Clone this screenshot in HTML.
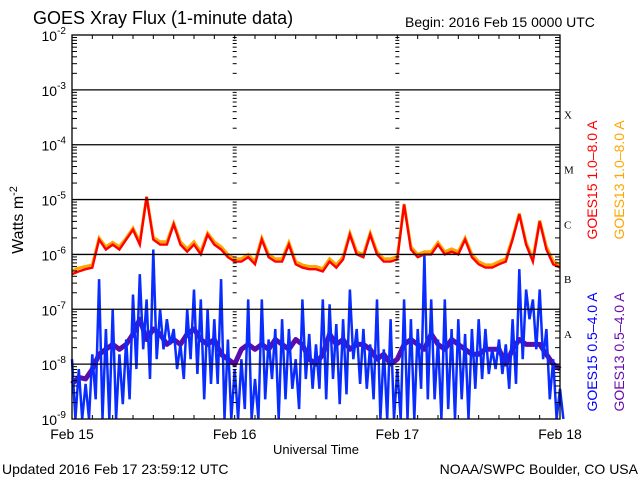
<!DOCTYPE html>
<html><head><meta charset="utf-8"><style>
body{margin:0;background:#fff;}
svg{display:block;font-family:"Liberation Sans",sans-serif;}
</style></head><body>
<svg id="c" width="640" height="480" viewBox="0 0 640 480">
<text x="33" y="24" font-size="18">GOES Xray Flux (1-minute data)</text>
<text x="405" y="27" font-size="14">Begin:  2016 Feb 15 0000 UTC</text>
<text transform="translate(23,220) rotate(-90)" text-anchor="middle" font-size="16">Watts m<tspan dy="-6" font-size="11">-2</tspan></text>
<text x="316" y="454" text-anchor="middle" font-size="13">Universal Time</text>
<text x="2" y="474" font-size="14">Updated 2016 Feb 17 23:59:12 UTC</text>
<text x="638" y="474" text-anchor="end" font-size="14">NOAA/SWPC Boulder, CO USA</text>
<text transform="translate(597,180) rotate(-90)" text-anchor="middle" font-size="14" fill="#ff0000">GOES15 1.0–8.0 A</text>
<text transform="translate(624,180) rotate(-90)" text-anchor="middle" font-size="14" fill="#ffa500">GOES13 1.0–8.0 A</text>
<text transform="translate(597,352) rotate(-90)" text-anchor="middle" font-size="14" fill="#0000ff">GOES15 0.5–4.0 A</text>
<text transform="translate(624,352) rotate(-90)" text-anchor="middle" font-size="14" fill="#6a0dad">GOES13 0.5–4.0 A</text>
<g id="plot"></g>
</svg>
<script>
const dayLabels=["Feb 15","Feb 16","Feb 17","Feb 18"];
const decades=[-2,-3,-4,-5,-6,-7,-8,-9];
const classes=["X","M","C","B","A"];
const red=[-6.36,-6.31,-6.27,-6.24,-5.73,-5.91,-5.82,-5.91,-5.73,-5.55,-5.82,-4.95,-5.73,-5.82,-5.82,-5.45,-5.82,-5.95,-5.82,-6.00,-5.64,-5.82,-5.91,-6.05,
-6.13,-6.13,-6.05,-6.18,-5.73,-6.05,-6.13,-6.13,-5.82,-6.18,-6.24,-6.27,-6.27,-6.31,-6.13,-6.24,-6.09,-5.64,-6.00,-6.05,-5.64,-6.00,-6.13,-6.13,
-6.09,-5.09,-5.91,-6.05,-6.00,-6.00,-5.82,-6.00,-5.95,-6.00,-5.73,-6.05,-6.18,-6.24,-6.24,-6.18,-6.13,-5.73,-5.27,-5.82,-6.13,-5.40,-5.91,-6.18,-6.24];
const orange=[-6.30,-6.25,-6.22,-6.19,-5.70,-5.86,-5.78,-5.86,-5.70,-5.52,-5.77,-4.95,-5.69,-5.77,-5.77,-5.43,-5.77,-5.90,-5.77,-5.95,-5.61,-5.77,-5.86,-6.00,
-6.08,-6.08,-6.00,-6.13,-5.70,-6.00,-6.08,-6.08,-5.78,-6.13,-6.19,-6.22,-6.22,-6.26,-6.08,-6.19,-6.04,-5.61,-5.95,-6.00,-5.61,-5.95,-6.08,-6.08,
-6.04,-5.08,-5.86,-6.00,-5.95,-5.95,-5.78,-5.95,-5.90,-5.95,-5.70,-6.00,-6.13,-6.19,-6.19,-6.13,-6.08,-5.70,-5.25,-5.78,-6.08,-5.38,-5.86,-6.12,-6.19];
const blueHi=[-7.91,-8.09,-8.36,-7.82,-6.45,-7.36,-7.00,-7.82,-7.55,-6.73,-6.36,-6.82,-5.91,-7.00,-7.18,-7.36,-7.64,-7.00,-6.64,-6.82,-7.00,-7.18,-6.45,-7.55,
-8.09,-7.91,-6.82,-8.27,-6.82,-7.55,-7.36,-7.18,-7.36,-7.91,-6.82,-7.45,-7.64,-6.82,-6.91,-7.27,-7.18,-6.64,-7.36,-7.36,-7.64,-6.82,-7.73,-7.18,
-8.09,-6.82,-7.18,-7.36,-6.00,-6.82,-7.55,-6.82,-7.36,-7.18,-7.45,-7.36,-7.18,-7.36,-7.73,-7.55,-7.64,-7.18,-6.27,-6.64,-6.82,-6.64,-7.36,-7.91,-8.45];
const blueLo=[-9.1,-9.1,-9.1,-8.64,-9.1,-9.1,-9.1,-8.73,-8.64,-8.09,-7.73,-8.27,-7.91,-7.73,-7.64,-8.09,-8.27,-7.91,-8.18,-8.64,-8.36,-8.36,-9.1,-9.1,
-9.1,-8.82,-9.1,-9.1,-8.64,-8.27,-9.1,-8.64,-8.45,-8.82,-8.27,-8.45,-8.45,-8.64,-8.27,-8.73,-8.55,-7.91,-8.36,-8.45,-8.64,-9.1,-9.1,-9.1,
-9.1,-9.1,-9.1,-8.45,-8.64,-8.64,-9.1,-8.82,-9.1,-8.64,-9.1,-8.45,-8.27,-8.18,-8.09,-8.18,-8.45,-8.36,-7.91,-7.18,-7.73,-7.91,-8.64,-9.1,-9.1];
const purple=[-8.36,-8.24,-8.27,-8.09,-7.82,-7.73,-7.64,-7.73,-7.64,-7.45,-7.18,-7.55,-7.36,-7.45,-7.64,-7.55,-7.64,-7.45,-7.36,-7.55,-7.64,-7.55,-7.82,-7.91,
-8.00,-7.73,-7.64,-7.73,-7.64,-7.73,-7.55,-7.64,-7.73,-7.55,-7.64,-7.91,-8.00,-7.82,-7.45,-7.64,-7.55,-7.73,-7.64,-7.64,-7.73,-7.91,-7.82,-8.00,
-7.91,-7.64,-7.55,-7.64,-7.73,-7.45,-7.64,-7.73,-7.55,-7.64,-7.73,-7.82,-7.82,-7.73,-7.73,-7.73,-8.00,-7.73,-7.55,-7.64,-7.64,-7.64,-7.82,-8.00,-8.09];

const L=72,R=560,T=35,B=419;
const xs=h=>L+(R-L)*h/72;
const ys=e=>{let y=T+(-2-e)*(B-T)/7;return Math.max(T,Math.min(B,y));};
const NS="http://www.w3.org/2000/svg";
const g=document.getElementById('plot');
function mk(tag,attrs){const e=document.createElementNS(NS,tag);for(const k in attrs)e.setAttribute(k,attrs[k]);g.appendChild(e);return e;}

function pts(arr){return arr.map((v,i)=>xs(i).toFixed(1)+","+ys(v).toFixed(1)).join(" ");}
let p=mk('polyline',{points:pts(purple),fill:'none',stroke:'#5a0daa','stroke-width':5,'stroke-linejoin':'round'});


let bp=[];
blueHi.forEach((v,i)=>{bp.push(xs(i).toFixed(1)+","+ys(v).toFixed(1));bp.push((xs(i)+3.4).toFixed(1)+","+ys(blueLo[i]).toFixed(1));});
let bl=mk('polyline',{points:bp.join(" "),fill:'none',stroke:'#0a2dff','stroke-width':2.5});


let o=mk('polyline',{points:pts(orange),fill:'none',stroke:'#ffa500','stroke-width':3});


let r=mk('polyline',{points:pts(red),fill:'none',stroke:'#ff0000','stroke-width':2.4});



decades.forEach((d,i)=>{
  const y=ys(d);
  if(i>0&&i<decades.length-1){const l=mk('line',{x1:L,x2:R,y1:y,y2:y,stroke:'#000','stroke-width':1.3});
  
  }
  const t=mk('text',{x:L-6,y:y+6,'text-anchor':'end','font-size':14});
  
  
  t.innerHTML='10<tspan dy="-7" font-size="10">'+d+'</tspan>';
});
const fr=mk('rect',{x:L,y:T,width:R-L,height:B-T,fill:'none',stroke:'#000','stroke-width':1.3});


[L,xs(24),xs(48),R].forEach((x,j)=>{
  for(let d=-2;d>-9;d--){for(let m=2;m<=9;m++){const y=ys(d-1+Math.log10(m));
    const len=j==0||j==3?5:3;
    let x1=j==3?x-len:x, x2=j==3?x:x+len;
    if(j==1||j==2){x1=x-2;x2=x+2;}
    const tk=mk('line',{x1:x1,x2:x2,y1:y,y2:y,stroke:'#000','stroke-width':1});
    
    }}
});
for(let h=3;h<72;h+=3){const x=xs(h);
  const a=mk('line',{x1:x,x2:x,y1:T,y2:T+4,stroke:'#000'});
  
  
  const b=mk('line',{x1:x,x2:x,y1:B,y2:B-4,stroke:'#000'});
  
  }
dayLabels.forEach((s,i)=>{const t=mk('text',{x:xs(i*24),y:439,'text-anchor':'middle','font-size':14});
  
  
  t.textContent=s;});
classes.forEach((c,i)=>{const t=mk('text',{x:564,y:ys(-3.45-i)+4,'font-size':11,'font-family':'Liberation Serif'});
  
  
  t.textContent=c;});
</script>
</body></html>
